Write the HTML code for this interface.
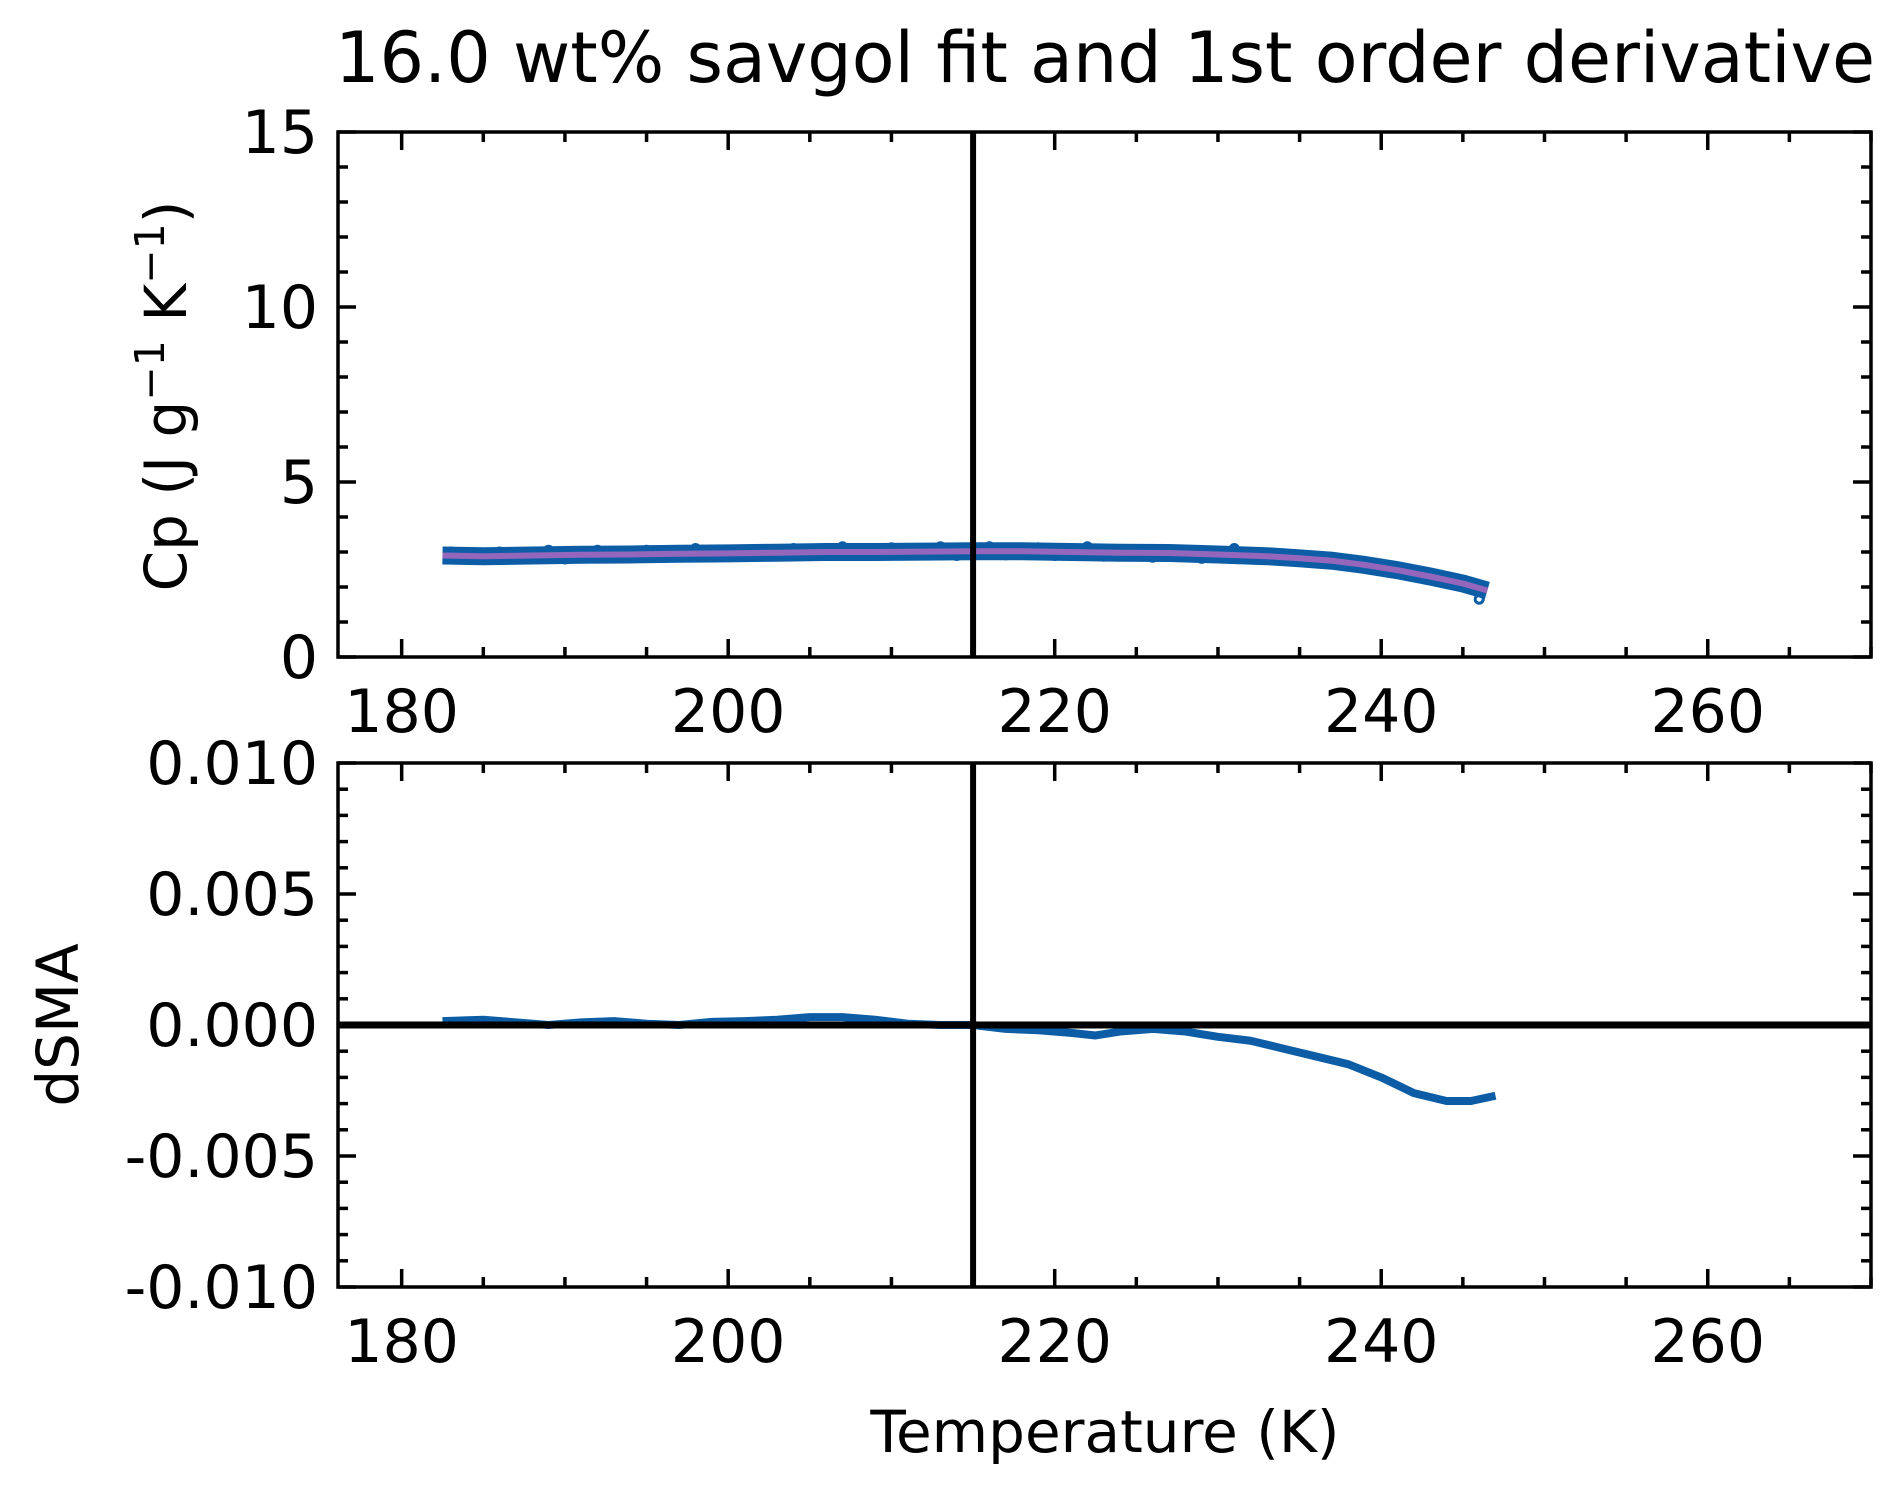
<!DOCTYPE html>
<html><head><meta charset="utf-8"><style>
html,body{margin:0;padding:0;background:#fff;}
svg{display:block;font-family:"DejaVu Sans","Liberation Sans",sans-serif;}
</style></head><body>
<svg id="fig" width="1904" height="1494" viewBox="0 0 1904 1494" xmlns="http://www.w3.org/2000/svg">
<rect width="1904" height="1494" fill="#fff"/>
<text x="1105" y="82" font-size="70" text-anchor="middle">16.0 wt% savgol fit and 1st order derivative</text>
<text transform="translate(186,396) rotate(-90)" font-size="58" text-anchor="middle">Cp (J g<tspan dy="-22" font-size="41">−1</tspan><tspan dy="22"> K</tspan><tspan dy="-22" font-size="41">−1</tspan><tspan dy="22">)</tspan></text>
<text transform="translate(78,1025) rotate(-90)" font-size="58" text-anchor="middle">dSMA</text>
<text x="1105" y="1452" font-size="58" text-anchor="middle">Temperature (K)</text>
<g id="top"></g>
<g id="bot"></g>
</svg>
<script>
const cpTemps=[182.5,185,188,191,194,197,200,203,206,209,212,215,218,221,224,227,230,233,235,237,239,241,243,245,246.5];
const cpValues=[2.9,2.88,2.9,2.92,2.93,2.95,2.96,2.98,3.0,3.0,3.01,3.02,3.02,3.0,2.98,2.97,2.93,2.88,2.82,2.75,2.63,2.48,2.3,2.1,1.9];
const cpScatterTemps=[183,184,186,187,189,190,192,193,195,196,198,199,201,202,204,205,207,208,210,211,213,214,216,217,219,220,222,223,225,226,228,229,231,232,234,236,238,240,242,244,246];
const cpScatterValues=[3.0,2.8,3.0,2.8,3.05,2.8,3.05,2.85,3.05,2.85,3.1,2.88,3.05,2.9,3.1,2.9,3.15,2.9,3.12,2.92,3.15,2.9,3.15,2.92,3.12,2.9,3.15,2.88,3.05,2.85,3.0,2.82,3.1,2.8,2.95,2.72,2.7,2.55,2.35,2.15,1.65];
const dTemps=[182.5,185,187,189,191,193,195,197,199,201,203,205,207,209,211,213,215,217,219,221,222.5,224,226,228,230,232,234,236,238,240,242,244,245.5,247];
const dValues=[0.00015,0.0002,0.0001,0.0,0.0001,0.00015,0.00005,0.0,0.00012,0.00015,0.0002,0.0003,0.0003,0.0002,0.00005,0.0,0.0,-0.00015,-0.0002,-0.0003,-0.0004,-0.00025,-0.00015,-0.00025,-0.00045,-0.0006,-0.0009,-0.0012,-0.0015,-0.002,-0.0026,-0.0029,-0.0029,-0.0027];
const xTicks=[180,200,220,240,260];
const cpTicks=[0,5,10,15];
const dTicks=[-0.01,-0.005,0,0.005,0.01];
const dTickLabels=["-0.010","-0.005","0.000","0.005","0.010"];
const vlineT=215;

const NS="http://www.w3.org/2000/svg";
const L=338,R=1871,xmin=176.1,xmax=270;
const X=t=>L+(t-xmin)/(xmax-xmin)*(R-L);
function mk(tag,attrs,parent){const e=document.createElementNS(NS,tag);for(const k in attrs)e.setAttribute(k,attrs[k]);parent.appendChild(e);return e;}
function axes(g,top,bot,ymin,ymax,yt,ytl,minorStep,prefix){
  const Y=v=>bot-(v-ymin)/(ymax-ymin)*(bot-top);
  for(let t=180;t<=270;t+=5){const x=X(t);const maj=(t%20===0);const len=maj?18:10;
    const a=mk('line',{x1:x,x2:x,y1:bot,y2:bot-len,stroke:'#000','stroke-width':3.5},g);
    
    const b=mk('line',{x1:x,x2:x,y1:top,y2:top+len,stroke:'#000','stroke-width':3.5},g);
    }
  for(let v=ymin;v<=ymax+1e-12;v+=minorStep){const y=Y(v);const maj=yt.some(m=>Math.abs(m-v)<minorStep/10);const len=maj?18:10;
    const a=mk('line',{x1:L,x2:L+len,y1:y,y2:y,stroke:'#000','stroke-width':3.5},g);
    
    const b=mk('line',{x1:R,x2:R-len,y1:y,y2:y,stroke:'#000','stroke-width':3.5},g);
    }
  xTicks.forEach(t=>{const tx=mk('text',{x:X(t),y:bot+75,'font-size':60,'text-anchor':'middle'},g);tx.textContent=t;
    });
  yt.forEach((v,i)=>{const tx=mk('text',{x:L-20,y:Y(v)+21,'font-size':60,'text-anchor':'end'},g);tx.textContent=ytl[i];
    });
  return Y;
}
const gt=document.getElementById('top');
const tT=132,tB=657;
const Yc=axes(gt,tT,tB,0,15,cpTicks,cpTicks.map(String),1,'top');
const band=mk('polyline',{points:cpTemps.map((t,i)=>X(t)+','+Yc(cpValues[i])).join(' '),fill:'none',stroke:'#0C5DA5','stroke-width':18,'stroke-linejoin':'round'},gt);

cpScatterTemps.forEach((t,i)=>{const c=mk('circle',{cx:X(t),cy:Yc(cpScatterValues[i]),r:4,fill:'none',stroke:'#0C5DA5','stroke-width':3},gt);
  });
const fit=mk('polyline',{points:cpTemps.map((t,i)=>X(t)+','+Yc(cpValues[i])).join(' '),fill:'none',stroke:'#9467BD','stroke-width':6,'stroke-linejoin':'round'},gt);

const vl1=mk('line',{x1:X(vlineT),x2:X(vlineT),y1:tT,y2:tB,stroke:'#000','stroke-width':6},gt);

const fr1=mk('rect',{x:L,y:tT,width:R-L,height:tB-tT,fill:'none',stroke:'#000','stroke-width':3.5},gt);

const gb=document.getElementById('bot');
const bT=763,bB=1287;
const Yd=axes(gb,bT,bB,-0.01,0.01,dTicks,dTickLabels,0.001,'bottom');
const dl=mk('polyline',{points:dTemps.map((t,i)=>X(t)+','+Yd(dValues[i])).join(' '),fill:'none',stroke:'#0C5DA5','stroke-width':8,'stroke-linejoin':'round'},gb);

const zl=mk('line',{x1:L,x2:R,y1:Yd(0),y2:Yd(0),stroke:'#000','stroke-width':7},gb);

const vl2=mk('line',{x1:X(vlineT),x2:X(vlineT),y1:bT,y2:bB,stroke:'#000','stroke-width':6},gb);

const fr2=mk('rect',{x:L,y:bT,width:R-L,height:bB-bT,fill:'none',stroke:'#000','stroke-width':3.5},gb);

</script>
</body></html>
